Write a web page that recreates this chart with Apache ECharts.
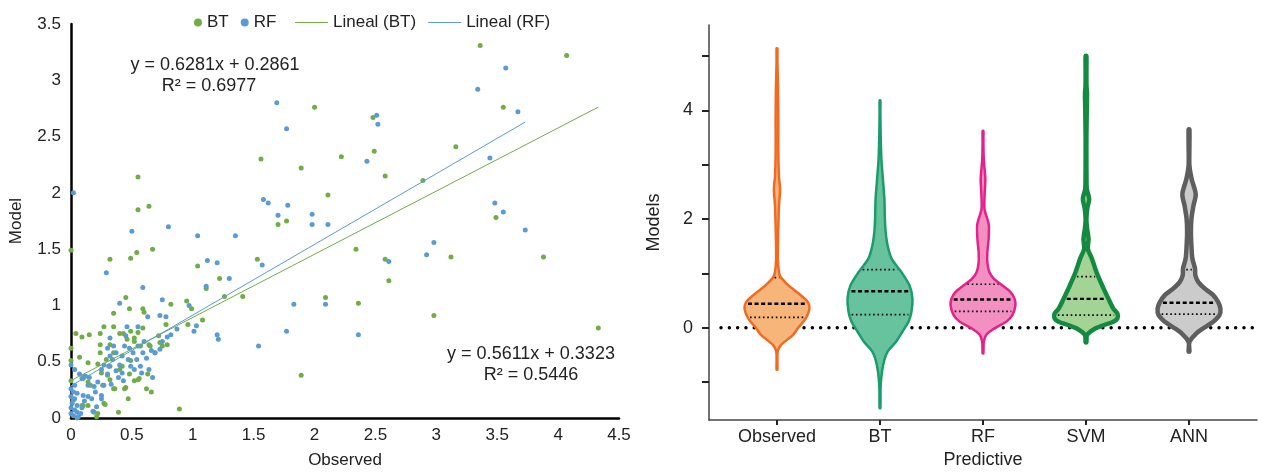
<!DOCTYPE html>
<html>
<head>
<meta charset="utf-8">
<script src="https://cdn.jsdelivr.net/npm/echarts@6/dist/echarts.min.js"></script>
<style>
  html, body { margin: 0; padding: 0; background: #fff; }
  #chart { width: 1263px; height: 474px; }
</style>
</head>
<body>
<div id="chart"></div>
<script>
// ---------------------------------------------------------------------------
// DONNEES : nuage de points (observed, model)

var btPoints = [
  [3.36,3.31],[4.07,3.22],[2.00,2.76],[2.48,2.67],[3.55,2.76],[3.16,2.41],[2.49,2.37],[1.56,2.30],
  [2.22,2.32],[1.89,2.22],[2.58,2.15],[0.55,2.14],[2.89,2.11],[2.11,1.98],[0.64,1.88],[0.55,1.85],
  [3.49,1.78],[1.77,1.75],[1.70,1.72],[0.00,1.49],[0.32,1.41],[0.49,1.42],[0.54,1.47],[0.67,1.50],
  [1.04,1.35],[2.34,1.50],[1.53,1.41],[2.58,1.41],[3.12,1.43],[3.88,1.43],[2.61,1.22],[1.22,1.24],
  [1.11,1.15],[1.26,1.08],[1.41,1.08],[2.09,1.07],[2.36,1.02],[2.98,0.91],[4.33,0.80],[1.89,0.38],
  [0.95,1.04],[0.99,0.97],[0.89,0.08],[0.45,1.07],[0.48,0.97],[0.35,0.93],[0.82,1.01],[0.59,0.97],
  [0.60,0.94],[1.08,0.87],[0.96,0.83],[0.04,0.75],[0.15,0.74],[0.09,0.72],[0.24,0.75],[0.27,0.81],
  [0.35,0.81],[0.40,0.75],[0.43,0.75],[0.00,0.62],[0.00,0.51],[0.07,0.54],[0.00,0.33],[0.02,0.16],
  [0.05,0.00],[0.09,0.11],[0.14,0.11],[0.19,0.05],[0.22,0.04],[0.21,0.01],[0.39,0.05],[0.47,0.17],
  [0.27,0.13],[0.35,0.26],[0.44,0.26],[0.52,0.33],[0.55,0.34],[0.62,0.26],[0.66,0.23],[0.63,0.39],
  [0.24,0.58],[0.29,0.52],[0.32,0.46],[0.42,0.46],[0.49,0.51],[0.48,0.39],[0.14,0.49],[0.22,0.48],
  [0.11,0.37],[0.14,0.32],[0.25,0.40],[0.52,0.71],[0.55,0.76],[0.59,0.80],[0.57,0.64],[0.64,0.65],
  [0.69,0.58],[0.75,0.64],[0.78,0.83],[0.73,0.67],[0.35,0.58],[0.24,0.65],[0.32,0.65],[0.46,0.70],
  [0.49,0.77],[0.52,0.68],[0.65,0.64],[0.72,0.73],[0.79,0.65],[0.10,0.35],[0.16,0.29],[0.26,0.29],
  [0.30,0.38],[0.32,0.34],[0.36,0.26],[0.40,0.43],[0.45,0.27],[0.56,0.35],[0.10,0.11],[0.28,0.12]
];

var rfPoints = [
  [1.69,2.80],[1.77,2.57],[2.51,2.69],[2.52,2.61],[3.34,2.92],[3.57,3.11],[3.67,2.72],[3.44,2.31],
  [2.43,2.28],[0.02,2.00],[1.58,1.94],[1.62,1.91],[1.78,1.89],[3.48,1.91],[3.55,1.83],[1.70,1.80],
  [1.98,1.81],[1.98,1.72],[2.11,1.72],[3.73,1.67],[0.50,1.66],[0.80,1.70],[1.04,1.62],[1.35,1.62],
  [2.98,1.56],[2.92,1.45],[2.61,1.39],[1.57,1.36],[1.12,1.40],[1.20,1.38],[0.29,1.29],[1.30,1.24],
  [1.11,1.17],[0.59,1.16],[0.75,1.05],[0.40,1.02],[1.83,1.01],[2.09,1.01],[0.97,1.00],[1.77,0.77],
  [2.36,0.74],[1.20,0.74],[1.21,0.70],[1.54,0.64],[1.03,0.82],[1.01,0.77],[0.87,0.79],[0.82,0.74],
  [0.78,0.90],[0.73,0.91],[0.63,0.90],[0.55,0.81],[0.46,0.81],[0.32,0.71],
  [0.00,0.47],[0.03,0.43],[0.07,0.39],[0.09,0.35],[0.03,0.29],[0.00,0.26],[0.02,0.23],[0.05,0.22],
  [0.00,0.19],[0.03,0.17],[0.01,0.13],[0.05,0.11],[0.00,0.09],[0.03,0.07],[0.00,0.04],[0.05,0.05],
  [0.09,0.09],[0.08,0.04],[0.12,0.37],[0.15,0.36],[0.14,0.29],[0.10,0.20],[0.14,0.19],[0.17,0.17],
  [0.19,0.28],[0.22,0.32],[0.20,0.23],[0.25,0.20],[0.25,0.17],[0.21,0.10],[0.27,0.29],[0.30,0.39],
  [0.31,0.46],[0.32,0.55],[0.30,0.62],[0.35,0.64],[0.34,0.52],[0.37,0.42],[0.39,0.36],[0.40,0.47],
  [0.42,0.55],[0.44,0.64],[0.45,0.73],[0.47,0.52],[0.49,0.46],[0.51,0.58],[0.52,0.43],[0.54,0.52],
  [0.55,0.64],[0.57,0.46],[0.59,0.58],[0.60,0.68],[0.62,0.53],[0.64,0.43],[0.66,0.60],[0.69,0.58],
  [0.67,0.36],[0.73,0.61],[0.75,0.68],[0.79,0.72],[0.25,0.43],[0.27,0.47],[0.37,0.58],[0.42,0.40],
  [0.02,0.02],[0.06,0.01],[0.11,0.15],[0.18,0.06],[0.33,0.30],[0.48,0.62],[0.58,0.40],[0.43,0.33]
];

// coefficients des courbes de tendance [pente, ordonnee]
var btFit = [0.5611, 0.3323];
var rfFit = [0.6281, 0.2861];
var btFitText = ['y = 0.5611x + 0.3323', 'R\u00b2 = 0.5446'];
var rfFitText = ['y = 0.6281x + 0.2861', 'R\u00b2 = 0.6977'];

// ---------------------------------------------------------------------------
// DONNEES : violons (profil [valeur, densite lue], quartiles [q1, mediane, q3])

var violinNames = ['Observed', 'BT', 'RF', 'SVM', 'ANN'];
var violinPositions = [1, 2, 3, 4, 5];
var violinYTicks = [-1, 0, 1, 2, 3, 4, 5];
var violinYLabels = [0, 2, 4];
var zeroLineValue = 0;

var observedProfile = [
  [-0.77,1.0],[-0.6,1.5],[-0.43,2],[-0.32,5],[-0.13,16.7],[0.0,21.7],[0.17,29],[0.35,32.5],
  [0.47,31],[0.6,24],[0.72,16],[0.84,9],[0.96,4],[1.2,2.2],[1.6,2.2],[2.0,2.7],[2.24,3.1],
  [2.55,4.2],[2.79,3.1],[3.22,2.5],[3.83,2.5],[4.44,2.2],[4.9,1.6],[5.14,1.0]
];
var btProfile = [
  [-1.48,1.0],[-1.05,2],[-0.68,4.5],[-0.44,9],[-0.26,17.5],[-0.07,24],[0.11,30],[0.29,33],
  [0.54,34],[0.78,31],[1.02,23],[1.27,13],[1.51,9],[1.76,7],[2.0,6.2],[2.37,5.7],[2.73,4.2],
  [3.1,2.7],[3.52,2],[3.96,1.3],[4.18,0.8]
];
var rfProfile = [
  [-0.47,1.0],[-0.26,2],[-0.13,4.5],[-0.01,12.5],[0.11,24],[0.23,30],[0.41,33],[0.54,32],
  [0.66,28],[0.78,20],[0.9,12],[1.02,7.5],[1.2,5.5],[1.39,5.5],[1.63,6.7],[1.88,7],[2.0,5.5],
  [2.18,2.7],[2.45,2.8],[2.73,3.5],[3.1,2],[3.4,1.4],[3.62,0.8]
];
var svmProfile = [
  [-0.27,1.5],[-0.13,3.3],[-0.01,11.7],[0.05,20],[0.11,29],[0.17,33],[0.26,33],[0.35,29],
  [0.54,24],[0.78,18],[1.02,12.5],[1.27,8],[1.45,4],[1.63,4.7],[1.82,3.3],[2.0,2.5],[2.2,3.5],
  [2.37,5.3],[2.55,3],[2.73,2.7],[3.1,2.5],[3.52,2.3],[4.07,3],[4.3,3.2],[4.44,2.7],[4.74,2],[5.0,1.0]
];
var annProfile = [
  [-0.44,1.5],[-0.26,2.7],[-0.1,10],[-0.01,16.7],[0.11,26.7],[0.23,33],[0.35,34],[0.47,31.7],
  [0.6,26.7],[0.72,18.3],[0.84,11.7],[0.96,8.7],[1.09,8.3],[1.27,5.7],[1.51,4.7],[1.76,4.2],
  [2.0,4.7],[2.24,6.7],[2.46,9],[2.73,5],[2.98,2.7],[3.34,1.8],[3.65,1.0]
];
var violinProfiles = [observedProfile, btProfile, rfProfile, svmProfile, annProfile];
var violinQuartiles = [
  [0.19, 0.44, 0.92],
  [0.24, 0.67, 1.07],
  [0.30, 0.52, 0.80],
  [0.23, 0.53, 0.94],
  [0.25, 0.46, 1.07]
];

// ---------------------------------------------------------------------------
// STYLES

var fontFamily = '"Liberation Sans", Arial, sans-serif';
var textColor = '#222';
var colorBT = '#70ad47';
var colorRF = '#5b9bd5';
var violinFill = ['#f8b57a', '#66c39d', '#f291c1', '#a3d495', '#cbcbcb'];
var violinStroke = ['#f26a21', '#1c9c6c', '#e6218a', '#138a3f', '#5e5e5e'];
var violinLineWidth = [2.5, 2.5, 2.5, 4.5, 4.5];
var VIOLIN_HALF = 0.327; // demi-largeur max en unites de l'axe

function fitLine(points, fit) {
  var xs = points.map(function (p) { return p[0]; });
  var x0 = Math.min.apply(null, xs);
  var x1 = Math.max.apply(null, xs);
  return [[x0, fit[0] * x0 + fit[1]], [x1, fit[0] * x1 + fit[1]]];
}

function densityAt(profile, v) {
  for (var k = 1; k < profile.length; k++) {
    if (v <= profile[k][0]) {
      var a = profile[k - 1], b = profile[k];
      var t = (v - a[0]) / (b[0] - a[0]);
      return a[1] + t * (b[1] - a[1]);
    }
  }
  return profile[profile.length - 1][1];
}

function renderViolin(params, api) {
  var i = params.dataIndex;
  var pos = api.value(0);
  var prof = violinProfiles[i];
  var lw = violinLineWidth[i];
  var maxD = Math.max.apply(null, prof.map(function (p) { return p[1]; }));
  var halfPx = api.size([VIOLIN_HALF, 0])[0];
  var cx = api.coord([pos, 0])[0];
  function half(d) { return Math.max(d / maxD * halfPx - lw / 2, 0.4); }

  var right = [], left = [];
  prof.forEach(function (p) {
    var y = api.coord([pos, p[0]])[1];
    var h = half(p[1]);
    right.push([cx + h, y]);
    left.unshift([cx - h, y]);
  });

  var children = [];

  // ligne pointillee y = 0, dessinee sous le premier violon
  if (i === 0) {
    var cs = params.coordSys;
    var y0 = api.coord([pos, zeroLineValue])[1];
    children.push({
      type: 'line', z2: 0,
      shape: {x1: cs.x + 12, y1: y0, x2: cs.x + cs.width, y2: y0},
      style: {stroke: '#000', lineWidth: 3.4, lineDash: [0.1, 8.2], lineCap: 'round'}
    });
  }

  children.push({
    type: 'polygon', z2: 5,
    shape: {points: right.concat(left), smooth: 0.3},
    style: {fill: violinFill[i], stroke: violinStroke[i], lineWidth: lw, lineJoin: 'round'}
  });

  violinQuartiles[i].forEach(function (q, k) {
    var y = api.coord([pos, q])[1];
    var w = half(densityAt(prof, q)) - lw / 2 - 1;
    children.push({
      type: 'line', z2: 6,
      shape: {x1: cx - w, y1: y, x2: cx + w, y2: y},
      style: k === 1
        ? {stroke: '#000', lineWidth: 2.4, lineDash: [4, 2.6]}
        : {stroke: '#000', lineWidth: 1.7, lineDash: [1.6, 2.7]}
    });
  });

  return {type: 'group', children: children};
}

// ---------------------------------------------------------------------------
// GRAPHIQUE

var chart = echarts.init(document.getElementById('chart'), null, {renderer: 'canvas'});

var eqFont = '18px ' + fontFamily;

var option = {
  animation: false,
  backgroundColor: '#fff',
  textStyle: {fontFamily: fontFamily, color: textColor},
  grid: [
    {left: 71, right: 644, top: 24, bottom: 51},
    {left: 709, right: 6, top: 25, bottom: 53}
  ],
  legend: [
    {
      data: ['BT', 'RF'],
      left: 189, top: 9,
      itemWidth: 8, itemHeight: 8, itemGap: 12,
      textStyle: {fontSize: 17, color: textColor, fontFamily: fontFamily}
    },
    {
      data: ['Lineal (BT)', 'Lineal (RF)'],
      icon: 'rect',
      left: 290, top: 9,
      itemWidth: 33, itemHeight: 1, itemGap: 12,
      textStyle: {fontSize: 17, color: textColor, fontFamily: fontFamily}
    }
  ],
  xAxis: [
    {
      gridIndex: 0, type: 'value', min: 0, max: 4.5, interval: 0.5,
      name: 'Observed', nameLocation: 'middle', nameGap: 34,
      nameTextStyle: {fontSize: 17, color: textColor},
      axisLine: {onZero: false, lineStyle: {color: '#000', width: 2.5}},
      axisTick: {show: false},
      splitLine: {show: false},
      axisLabel: {fontSize: 17, color: textColor, margin: 9}
    },
    {
      gridIndex: 1, type: 'value', min: 0.34, max: 5.66,
      name: 'Predictive', nameLocation: 'middle', nameGap: 25,
      nameTextStyle: {fontSize: 18, color: textColor},
      axisLine: {onZero: false, lineStyle: {color: '#444', width: 1.5}},
      axisTick: {customValues: violinPositions, length: 5, lineStyle: {color: '#222', width: 2}},
      splitLine: {show: false},
      axisLabel: {
        customValues: violinPositions, fontSize: 18, color: textColor, margin: 8,
        formatter: function (v) { return violinNames[Math.round(v) - 1] || ''; }
      }
    }
  ],
  yAxis: [
    {
      gridIndex: 0, type: 'value', min: 0, max: 3.5, interval: 0.5,
      name: 'Model', nameLocation: 'middle', nameGap: 46,
      nameTextStyle: {fontSize: 17, color: textColor},
      axisLine: {show: true, onZero: false, lineStyle: {color: '#000', width: 2.5}},
      axisTick: {show: false},
      splitLine: {show: false},
      axisLabel: {fontSize: 17, color: textColor, margin: 10}
    },
    {
      gridIndex: 1, type: 'value', min: -1.7, max: 5.57,
      name: 'Models', nameLocation: 'middle', nameGap: 46,
      nameTextStyle: {fontSize: 18, color: textColor},
      axisLine: {show: true, onZero: false, lineStyle: {color: '#444', width: 1.5}},
      axisTick: {customValues: violinYTicks, length: 7, lineStyle: {color: '#222', width: 2}},
      splitLine: {show: false},
      axisLabel: {customValues: violinYLabels, fontSize: 18, color: textColor, margin: 16}
    }
  ],
  graphic: [
    {type: 'text', x: 215, y: 65, style: {text: rfFitText[0], font: eqFont, fill: textColor, align: 'center', verticalAlign: 'middle'}},
    {type: 'text', x: 209, y: 86, style: {text: rfFitText[1], font: eqFont, fill: textColor, align: 'center', verticalAlign: 'middle'}},
    {type: 'text', x: 531, y: 354, style: {text: btFitText[0], font: eqFont, fill: textColor, align: 'center', verticalAlign: 'middle'}},
    {type: 'text', x: 531, y: 375, style: {text: btFitText[1], font: eqFont, fill: textColor, align: 'center', verticalAlign: 'middle'}}
  ],
  series: [
    {
      name: 'BT', type: 'scatter', xAxisIndex: 0, yAxisIndex: 0,
      data: btPoints, symbolSize: 5, itemStyle: {color: colorBT, opacity: 1}, z: 2
    },
    {
      name: 'RF', type: 'scatter', xAxisIndex: 0, yAxisIndex: 0,
      data: rfPoints, symbolSize: 5, itemStyle: {color: colorRF, opacity: 1}, z: 3
    },
    {
      name: 'Lineal (BT)', type: 'line', xAxisIndex: 0, yAxisIndex: 0,
      data: fitLine(btPoints, btFit), showSymbol: false, symbol: 'none',
      itemStyle: {color: colorBT}, lineStyle: {color: colorBT, width: 1}, z: 4
    },
    {
      name: 'Lineal (RF)', type: 'line', xAxisIndex: 0, yAxisIndex: 0,
      data: fitLine(rfPoints, rfFit), showSymbol: false, symbol: 'none',
      itemStyle: {color: colorRF}, lineStyle: {color: colorRF, width: 1}, z: 4
    },
    {
      name: 'Violins', type: 'custom', xAxisIndex: 1, yAxisIndex: 1,
      data: violinPositions.map(function (p) { return [p]; }),
      renderItem: renderViolin,
      encode: {x: 0},
      z: 3
    }
  ]
};

chart.setOption(option);
</script>
</body>
</html>
